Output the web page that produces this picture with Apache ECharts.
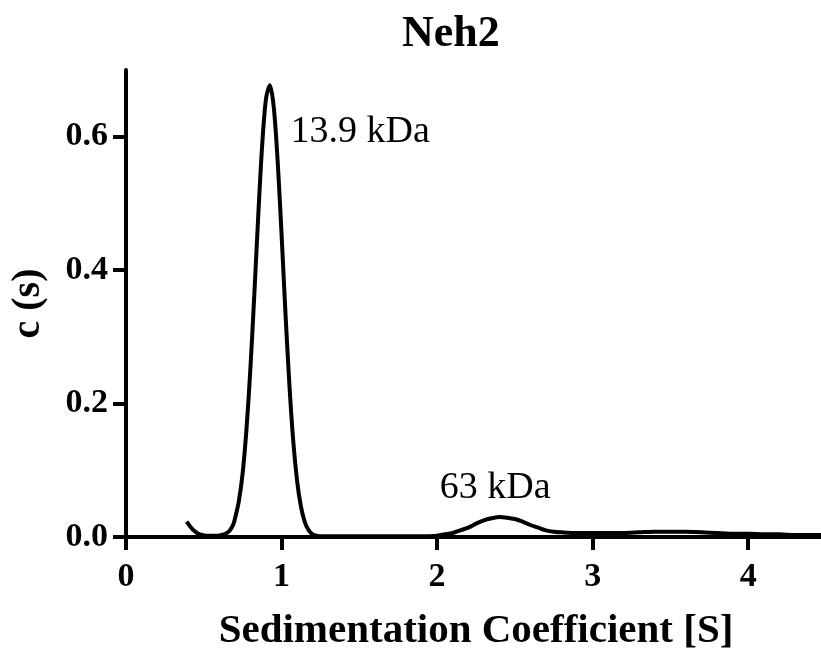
<!DOCTYPE html>
<html>
<head>
<meta charset="utf-8">
<script src="https://cdn.jsdelivr.net/npm/echarts@6/dist/echarts.min.js"></script>
<style>
  html, body { margin: 0; padding: 0; background: #fff; }
  #chart { width: 821px; height: 649px; }
</style>
</head>
<body>
<div id="chart"></div>
<script>
// Sedimentation coefficient distribution c(s) for Neh2
const sValues = [0.39, 0.415, 0.44, 0.465, 0.49, 0.515, 0.54, 0.565, 0.59, 0.615, 0.64, 0.665, 0.69, 0.70, 0.725, 0.75, 0.775,
  0.80, 0.825, 0.85, 0.875, 0.90, 0.925, 0.95, 0.975, 1.00, 1.025, 1.05, 1.075, 1.10, 1.125, 1.15, 1.175, 1.20, 1.225,
  1.25, 1.30, 1.40, 1.50, 1.60, 1.70, 1.80, 1.90, 2.00, 2.05, 2.10, 2.15, 2.20, 2.25, 2.30, 2.35, 2.40, 2.45, 2.50,
  2.55, 2.60, 2.65, 2.70, 2.75, 2.80, 2.90, 3.00, 3.10, 3.20, 3.30, 3.40, 3.50, 3.60, 3.70, 3.80, 3.90, 4.00, 4.10,
  4.20, 4.30, 4.40, 4.50];
const cValues = [0.023, 0.015, 0.009, 0.005, 0.003, 0.002, 0.002, 0.002, 0.002, 0.003, 0.005, 0.009, 0.019, 0.027, 0.053, 0.096, 0.163,
  0.254, 0.364, 0.481, 0.586, 0.657, 0.677, 0.644, 0.563, 0.454, 0.336, 0.230, 0.144, 0.084, 0.045, 0.022, 0.010, 0.004, 0.002,
  0.001, 0.001, 0.001, 0.001, 0.001, 0.001, 0.001, 0.001, 0.002, 0.004, 0.006, 0.010, 0.014, 0.020, 0.025, 0.028, 0.030, 0.029, 0.027,
  0.023, 0.018, 0.014, 0.010, 0.008, 0.007, 0.006, 0.006, 0.006, 0.006, 0.007, 0.008, 0.008, 0.008, 0.007, 0.006, 0.005, 0.005, 0.004,
  0.004, 0.003, 0.003, 0.003];

const xTicks = [0, 1, 2, 3, 4];
const yTicks = [0, 0.2, 0.4, 0.6];

// Peak annotations: text, s position, c position
const peakLabels = [
  { text: '13.9 kDa', s: 1.505, c: 0.607 },
  { text: '63 kDa', s: 2.373, c: 0.0735 }
];

const serif = '"Liberation Serif", "Times New Roman", serif';
const ink = '#000';

const chart = echarts.init(document.getElementById('chart'), null, { renderer: 'canvas' });

const axisCommon = {
  axisLine: { show: true, onZero: false, lineStyle: { color: ink, width: 4 } },
  axisTick: { show: true, inside: false, length: 13, lineStyle: { color: ink, width: 4 } },
  splitLine: { show: false },
  nameMoveOverlap: false
};

chart.setOption({
  backgroundColor: '#fff',
  animation: false,
  title: {
    text: 'Neh2',
    left: 397,
    top: 8,
    textStyle: { fontFamily: serif, fontWeight: 'bold', fontSize: 44, color: ink }
  },
  grid: { left: 126, right: -5, top: 70, bottom: 112, containLabel: false, outerBoundsMode: 'none' },
  xAxis: Object.assign({}, axisCommon, {
    type: 'value',
    min: 0,
    max: 4.5,
    interval: 1,
    name: 'Sedimentation Coefficient [S]',
    nameLocation: 'middle',
    nameGap: 74,
    nameTextStyle: { fontFamily: serif, fontWeight: 'bold', fontSize: 41, color: ink },
    axisTick: Object.assign({}, axisCommon.axisTick, { customValues: xTicks }),
    axisLabel: {
      customValues: xTicks,
      margin: 23,
      fontFamily: serif, fontWeight: 'bold', fontSize: 34, color: ink,
      formatter: v => String(Math.round(v))
    }
  }),
  yAxis: Object.assign({}, axisCommon, {
    type: 'value',
    min: 0,
    max: 0.7,
    interval: 0.2,
    name: 'c (s)',
    nameLocation: 'middle',
    nameGap: 77,
    nameTextStyle: { fontFamily: serif, fontWeight: 'bold', fontSize: 40, color: ink },
    axisTick: Object.assign({}, axisCommon.axisTick, { customValues: yTicks }),
    axisLabel: {
      customValues: yTicks,
      margin: 18,
      fontFamily: serif, fontWeight: 'bold', fontSize: 34, color: ink,
      formatter: v => v.toFixed(1)
    }
  }),
  series: [{
    type: 'line',
    data: sValues.map((s, i) => [s, cValues[i]]),
    showSymbol: false,
    smooth: 0.3,
    lineStyle: { color: ink, width: 4 },
    clip: true,
    markPoint: {
      symbol: 'circle',
      symbolSize: 0,
      itemStyle: { color: 'transparent' },
      label: {
        show: true,
        position: 'inside',
        fontFamily: serif,
        fontSize: 38,
        color: ink,
        formatter: p => p.name
      },
      data: peakLabels.map(p => ({ name: p.text, coord: [p.s, p.c] }))
    }
  }]
});
</script>
</body>
</html>
